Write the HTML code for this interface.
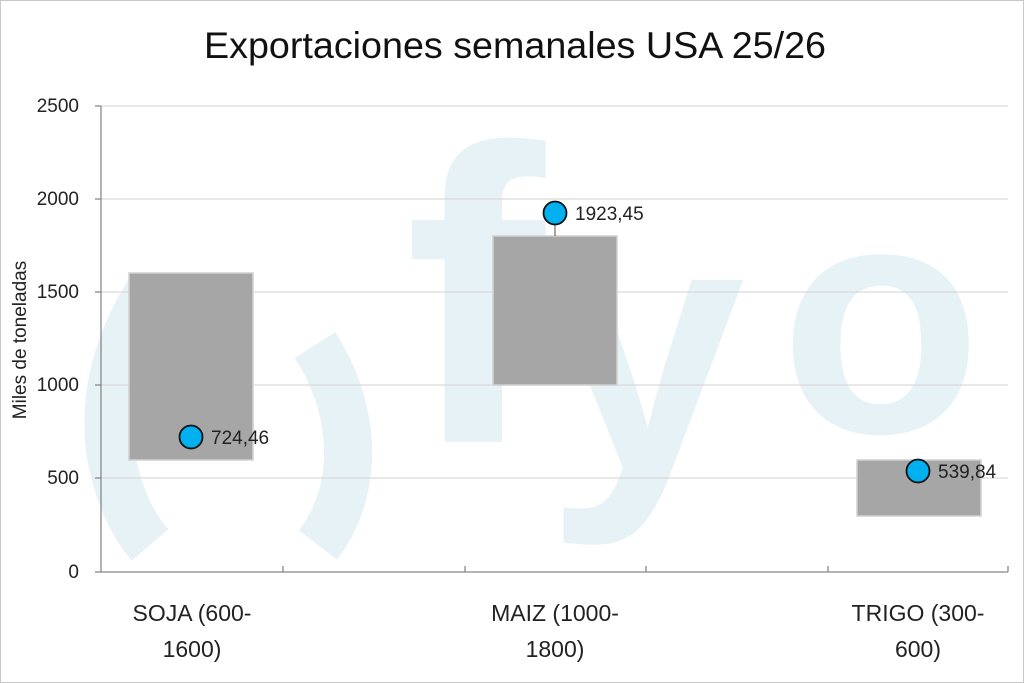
<!DOCTYPE html>
<html><head><meta charset="utf-8"><style>
body{margin:0;background:#fff}
svg{display:block;font-family:"Liberation Sans","DejaVu Sans",sans-serif}
</style></head><body>
<svg width="1024" height="683" viewBox="0 0 1024 683" xmlns="http://www.w3.org/2000/svg">
<rect x="0.5" y="0.5" width="1023" height="682" fill="#fff" stroke="#c8c8c8"/>
<!-- watermark -->
<g fill="none" stroke="#e6f2f6" stroke-width="48">
<path d="M150 290 Q100 370 110 450 Q120 510 150 545"/>
<path d="M315 345 Q350 400 348 460 Q345 510 318 545"/>
</g>
<g fill="#e6f2f6" font-weight="bold">
<text x="405" y="442" font-size="420">f</text>
<text x="545" y="470" font-size="360">y</text>
<text x="780" y="432" font-size="330">o</text>
</g>
<text x="515" y="58" text-anchor="middle" font-size="37" fill="#111" textLength="622" lengthAdjust="spacingAndGlyphs">Exportaciones semanales USA 25/26</text>
<!-- grid -->
<g stroke="#d9d9d9" stroke-width="1.3">
<line x1="101" y1="106" x2="1008" y2="106"/>
<line x1="101" y1="199" x2="1008" y2="199"/>
<line x1="101" y1="292" x2="1008" y2="292"/>
<line x1="101" y1="385" x2="1008" y2="385"/>
<line x1="101" y1="478" x2="1008" y2="478"/>
</g>
<g stroke="#888" stroke-width="1.3">
<line x1="101" y1="106" x2="101" y2="572"/>
<line x1="101" y1="572" x2="1008" y2="572"/>
<line x1="95" y1="106" x2="101" y2="106"/>
<line x1="95" y1="199" x2="101" y2="199"/>
<line x1="95" y1="292" x2="101" y2="292"/>
<line x1="95" y1="385" x2="101" y2="385"/>
<line x1="95" y1="478" x2="101" y2="478"/>
<line x1="95" y1="572" x2="101" y2="572"/>
<line x1="283" y1="566" x2="283" y2="572"/>
<line x1="465" y1="566" x2="465" y2="572"/>
<line x1="646" y1="566" x2="646" y2="572"/>
<line x1="828" y1="566" x2="828" y2="572"/>
<line x1="1008" y1="566" x2="1008" y2="572"/>
</g>
<g font-size="19" fill="#222" text-anchor="end">
<text x="79" y="112">2500</text><text x="79" y="205">2000</text>
<text x="79" y="298">1500</text><text x="79" y="391">1000</text>
<text x="79" y="484">500</text><text x="79" y="578">0</text>
</g>
<text transform="translate(26,340) rotate(-90)" text-anchor="middle" font-size="19" fill="#222">Miles de toneladas</text>
<!-- bars -->
<g fill="#a6a6a6" stroke="#d0d0d0" stroke-width="1.5">
<rect x="129" y="273" width="124" height="187"/>
<rect x="493" y="236" width="124" height="149"/>
<rect x="857" y="460" width="124" height="56"/>
</g>
<line x1="555" y1="213" x2="555" y2="236" stroke="#777" stroke-width="1.3"/>
<g fill="#00b0f0" stroke="#111" stroke-width="1.8">
<circle cx="191" cy="437" r="11.5"/>
<circle cx="555" cy="213" r="11.5"/>
<circle cx="918" cy="471" r="11.5"/>
</g>
<g font-size="19" fill="#222">
<text x="211" y="444">724,46</text>
<text x="575" y="220">1923,45</text>
<text x="938" y="478">539,84</text>
</g>
<g font-size="23" fill="#222" text-anchor="middle">
<text x="192" y="621">SOJA (600-</text><text x="192" y="657">1600)</text>
<text x="555" y="621">MAIZ (1000-</text><text x="555" y="657">1800)</text>
<text x="918" y="621">TRIGO (300-</text><text x="918" y="657">600)</text>
</g>
</svg>
</body></html>
